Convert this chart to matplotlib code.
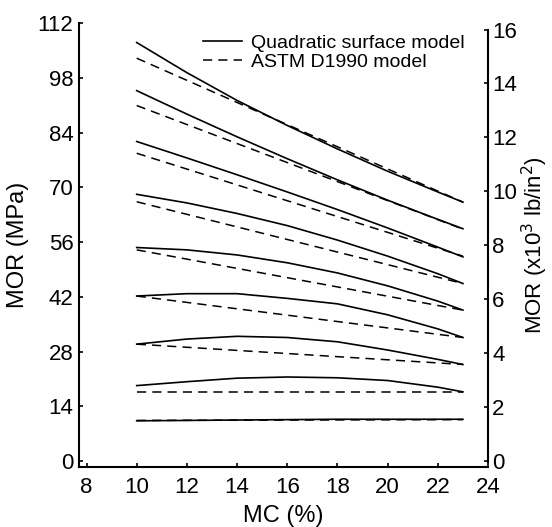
import numpy as np
import matplotlib.pyplot as plt

plt.rcParams['font.family'] = ['Liberation Sans', 'DejaVu Sans']

# moisture content (%) where the curves were read
mc = [10, 12, 14, 16, 18, 20, 22, 23]

# quadratic surface model, MOR in MPa, one list per strength level
quadratic = [
    [107.0, 99.3, 92.2, 85.8, 79.8, 74.1, 68.8, 66.2],
    [94.7, 88.7, 82.9, 77.3, 71.9, 66.7, 61.8, 59.4],
    [81.7, 77.5, 73.2, 68.8, 64.3, 59.6, 54.7, 52.2],
    [68.2, 66.0, 63.3, 60.2, 56.5, 52.4, 47.9, 45.4],
    [54.6, 54.0, 52.7, 50.7, 48.1, 44.8, 40.9, 38.6],
    [42.2, 42.8, 42.8, 41.6, 40.2, 37.4, 33.8, 31.6],
    [29.9, 31.2, 31.9, 31.6, 30.5, 28.4, 26.0, 24.7],
    [19.3, 20.3, 21.2, 21.5, 21.3, 20.6, 18.9, 17.7],
    [10.3, 10.4, 10.5, 10.6, 10.7, 10.7, 10.7, 10.7],
]

# ASTM D1990 model is straight, so only the end points
mc_astm = [10, 23]
astm = [
    [103.0, 66.2],
    [90.9, 59.3],
    [78.7, 52.4],
    [66.3, 45.4],
    [54.0, 38.6],
    [42.2, 31.6],
    [29.9, 24.7],
    [17.6, 17.6],
    [10.4, 10.6],
]

MPA_PER_KSI = 6.895

fig = plt.figure(figsize=(5.52, 5.27), dpi=100)
ax = fig.add_axes([0.1431, 0.1139, 0.741, 0.8425])

for i, vals in enumerate(quadratic):
    ax.plot(mc, vals, color='black', lw=1.2,
            label='Quadratic surface model' if i == 0 else None)
for i, vals in enumerate(astm):
    ax.plot(mc_astm, vals, color='black', lw=1.1, dashes=(6, 4),
            label='ASTM D1990 model' if i == 0 else None)

ax.set_xlim(7.7, 24)
ax.set_ylim(-1.5, 112)
ax.set_xticks(np.arange(8, 25, 2))
ax.set_yticks(np.arange(0, 113, 14))
ax.spines['top'].set_visible(False)
ax.spines['right'].set_visible(False)
for s in ['left', 'bottom']:
    ax.spines[s].set_linewidth(1.5)
ax.tick_params(direction='in', length=3, width=1.2, labelsize=16)
ax.tick_params(axis='x', pad=7)
ax.tick_params(axis='y', pad=4)
ax.set_xlabel('MC (%)', fontsize=17, labelpad=5)
ax.set_ylabel('MOR (MPa)', fontsize=17, labelpad=6)

ax2 = ax.twinx()
ax2.set_ylim(-1.5 / MPA_PER_KSI, 112 / MPA_PER_KSI)
ax2.set_yticks(np.arange(0, 17, 2))
for s in ['top', 'left', 'bottom']:
    ax2.spines[s].set_visible(False)
ax2.spines['right'].set_linewidth(1.5)
ax2.spines['right'].set_bounds(-0.05, 16)
ax2.tick_params(direction='in', length=3, width=1.2, labelsize=16, pad=3)
ax2.set_ylabel('MOR (x10$^3$ lb/in$^2$)', fontsize=16, labelpad=2)

ax.legend(loc='upper right', bbox_to_anchor=(0.972, 1.0), frameon=False,
          fontsize=14, handlelength=2.0, handletextpad=0.5,
          labelspacing=0.05, borderaxespad=0.2)

fig.savefig('out.png', dpi=100)
